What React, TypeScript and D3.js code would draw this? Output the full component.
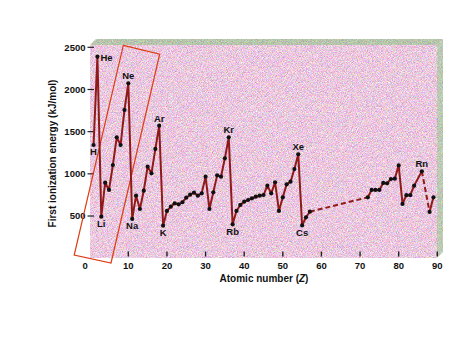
import React from "react";
import * as d3 from "d3";

const atomicNumbers = [
  1, 2, 3, 4, 5, 6, 7, 8, 9, 10,
  11, 12, 13, 14, 15, 16, 17, 18, 19, 20,
  21, 22, 23, 24, 25, 26, 27, 28, 29, 30,
  31, 32, 33, 34, 35, 36, 37, 38, 39, 40,
  41, 42, 43, 44, 45, 46, 47, 48, 49, 50,
  51, 52, 53, 54, 55, 56, 57,
  72, 73, 74, 75, 76, 77, 78, 79, 80,
  81, 82, 83, 84, 86, 88, 89,
];
const energies = [
  1342, 2389, 492, 895, 809, 1105, 1433, 1342, 1757, 2073,
  465, 741, 583, 800, 1085, 1006, 1295, 1571, 385, 560,
  611, 651, 639, 663, 717, 753, 777, 741, 769, 966,
  583, 781, 982, 966, 1184, 1433, 402, 560, 631, 670,
  690, 710, 729, 741, 749, 860, 769, 900, 560, 722,
  876, 907, 1057, 1232, 388, 485, 551,
  722, 809, 809, 809, 892, 888, 939, 943, 1100,
  643, 747, 747, 860, 1030, 548, 722,
];
// atomic numbers after which the curve continues as a dashed line
const dashedAfter = [57, 86];

const labelSymbols = ["H", "He", "Li", "Ne", "Na", "Ar", "K", "Kr", "Rb", "Xe", "Cs", "Rn"];
const labelZ = [1, 2, 3, 10, 11, 18, 19, 36, 37, 54, 55, 86];
const labelPlace = ["below", "right", "below", "above", "below", "above", "below", "above", "below", "above", "below", "above"];

const xTicks = [0, 10, 20, 30, 40, 50, 60, 70, 80, 90];
const yTicks = [500, 1000, 1500, 2000, 2500];

// highlighted band (annotation) corners, in data units (Z, kJ/mol)
const bandZ = [8.7, 18.12, 5.52, -4.01];
const bandE = [2522, 2419, -57, 38];

const W = 476;
const H = 357;
const FONT = "'Liberation Sans', Arial, Helvetica, sans-serif";

export default function App() {
  const x = d3.scaleLinear().domain([0, 90]).range([89.7, 437.3]);
  const y = d3.scaleLinear().domain([0, 2500]).range([258.2, 47.3]);

  const pts = atomicNumbers.map((z, i) => ({ z, e: energies[i] }));
  const solidSegs: { z: number; e: number }[][] = [];
  const dashSegs: { z: number; e: number }[][] = [];
  let cur: { z: number; e: number }[] = [];
  pts.forEach((p, i) => {
    cur.push(p);
    if (dashedAfter.includes(p.z) && i < pts.length - 1) {
      solidSegs.push(cur);
      dashSegs.push([p, pts[i + 1]]);
      cur = [];
    }
  });
  if (cur.length) solidSegs.push(cur);

  const line = d3
    .line<{ z: number; e: number }>()
    .x((d) => x(d.z))
    .y((d) => y(d.e));

  const left = 90;
  const right = 437;
  const top = 45;
  const bottom = 258;
  const depth = 6;

  const band = bandZ.map((z, i) => `${x(z)},${y(bandE[i])}`).join(" ");

  return (
    <svg
      width={W}
      height={H}
      style={{ position: "absolute", left: 0, top: 0, background: "#fff" }}
      fontFamily={FONT}
    >
      <defs>
        <filter id="pinkNoise" x="0" y="0" width="100%" height="100%" colorInterpolationFilters="sRGB">
          <feTurbulence type="fractalNoise" baseFrequency="1.2" numOctaves={1} seed={4} result="n" />
          <feColorMatrix
            in="n"
            type="matrix"
            values="0.75 0 0 0 0.55  0 0.75 0 0 0.41  0 0 0.75 0 0.5  0 0 0 0 1"
          />
          <feComposite in2="SourceAlpha" operator="in" />
        </filter>
        <filter id="greenNoise" x="0" y="0" width="100%" height="100%" colorInterpolationFilters="sRGB">
          <feTurbulence type="fractalNoise" baseFrequency="1.2" numOctaves={1} seed={7} result="n" />
          <feColorMatrix
            in="n"
            type="matrix"
            values="0.55 0 0 0 0.44  0 0.55 0 0 0.5  0 0 0.55 0 0.4  0 0 0 0 1"
          />
          <feComposite in2="SourceAlpha" operator="in" />
        </filter>
      </defs>

      {/* 3D box */}
      <rect x={left} y={top} width={right - left} height={bottom - top} fill="#e8cade" filter="url(#pinkNoise)" />
      <polygon
        points={`${left},${top} ${left + depth},${top - depth} ${right + depth},${top - depth} ${right},${top}`}
        fill="#b2c8a8"
        filter="url(#greenNoise)"
      />
      <polygon
        points={`${right},${top} ${right + depth},${top - depth} ${right + depth},${bottom - depth} ${right},${bottom}`}
        fill="#9fb896"
        filter="url(#greenNoise)"
        opacity={0.92}
      />

      {/* x tick marks */}
      {xTicks
        .filter((t) => t !== 0)
        .map((t) => (
          <line key={`xt${t}`} x1={x(t)} x2={x(t)} y1={251.5} y2={256.5} stroke="#222" strokeWidth={1.4} />
        ))}
      {xTicks.map((t) => (
        <text
          key={`xl${t}`}
          x={x(t) + (t === 0 ? -4.6 : 0)}
          y={268.6}
          textAnchor="middle"
          fontSize={9.5}
          fontWeight="bold"
          fill="#111"
        >
          {t}
        </text>
      ))}

      {/* y ticks */}
      {yTicks.map((t) => (
        <g key={`yt${t}`}>
          <line x1={87.5} x2={94} y1={y(t)} y2={y(t)} stroke="#222" strokeWidth={1.2} />
          <text x={85.5} y={y(t) + 3.3} textAnchor="end" fontSize={9.5} fontWeight="bold" fill="#111">
            {t}
          </text>
        </g>
      ))}

      {/* axis titles */}
      <text
        transform={`translate(55.8,153.5) rotate(-90)`}
        textAnchor="middle"
        fontSize={10}
        fontWeight="bold"
        fill="#111"
      >
        First ionization energy (kJ/mol)
      </text>
      <text x={264} y={281.5} textAnchor="middle" fontSize={10} fontWeight="bold" fill="#111">
        Atomic number (<tspan fontStyle="italic">Z</tspan>)
      </text>

      {/* annotation band */}
      <polygon points={band} fill="none" stroke="#dd3c14" strokeWidth={1.2} />

      {/* data line */}
      {solidSegs.map((s, i) => (
        <path key={`s${i}`} d={line(s) || ""} fill="none" stroke="#8e1a1a" strokeWidth={2} strokeLinejoin="round" />
      ))}
      {dashSegs.map((s, i) => (
        <path
          key={`d${i}`}
          d={line(s) || ""}
          fill="none"
          stroke="#8e1a1a"
          strokeWidth={2}
          strokeDasharray="5,3"
        />
      ))}
      {pts.map((p) => (
        <circle key={`p${p.z}`} cx={x(p.z)} cy={y(p.e)} r={2.1} fill="#111" />
      ))}

      {/* element labels */}
      {labelSymbols.map((sym, i) => {
        const idx = atomicNumbers.indexOf(labelZ[i]);
        const px = x(labelZ[i]);
        const py = y(energies[idx]);
        const place = labelPlace[i];
        let tx = px;
        let ty = py;
        let anchor = "middle";
        if (place === "below") ty = py + 10.5;
        else if (place === "above") ty = py - 4;
        else {
          tx = px + 3;
          ty = py + 4;
          anchor = "start";
        }
        return (
          <text key={`l${sym}`} x={tx} y={ty} textAnchor={anchor} fontSize={9.5} fontWeight="bold" fill="#111">
            {sym}
          </text>
        );
      })}
    </svg>
  );
}
